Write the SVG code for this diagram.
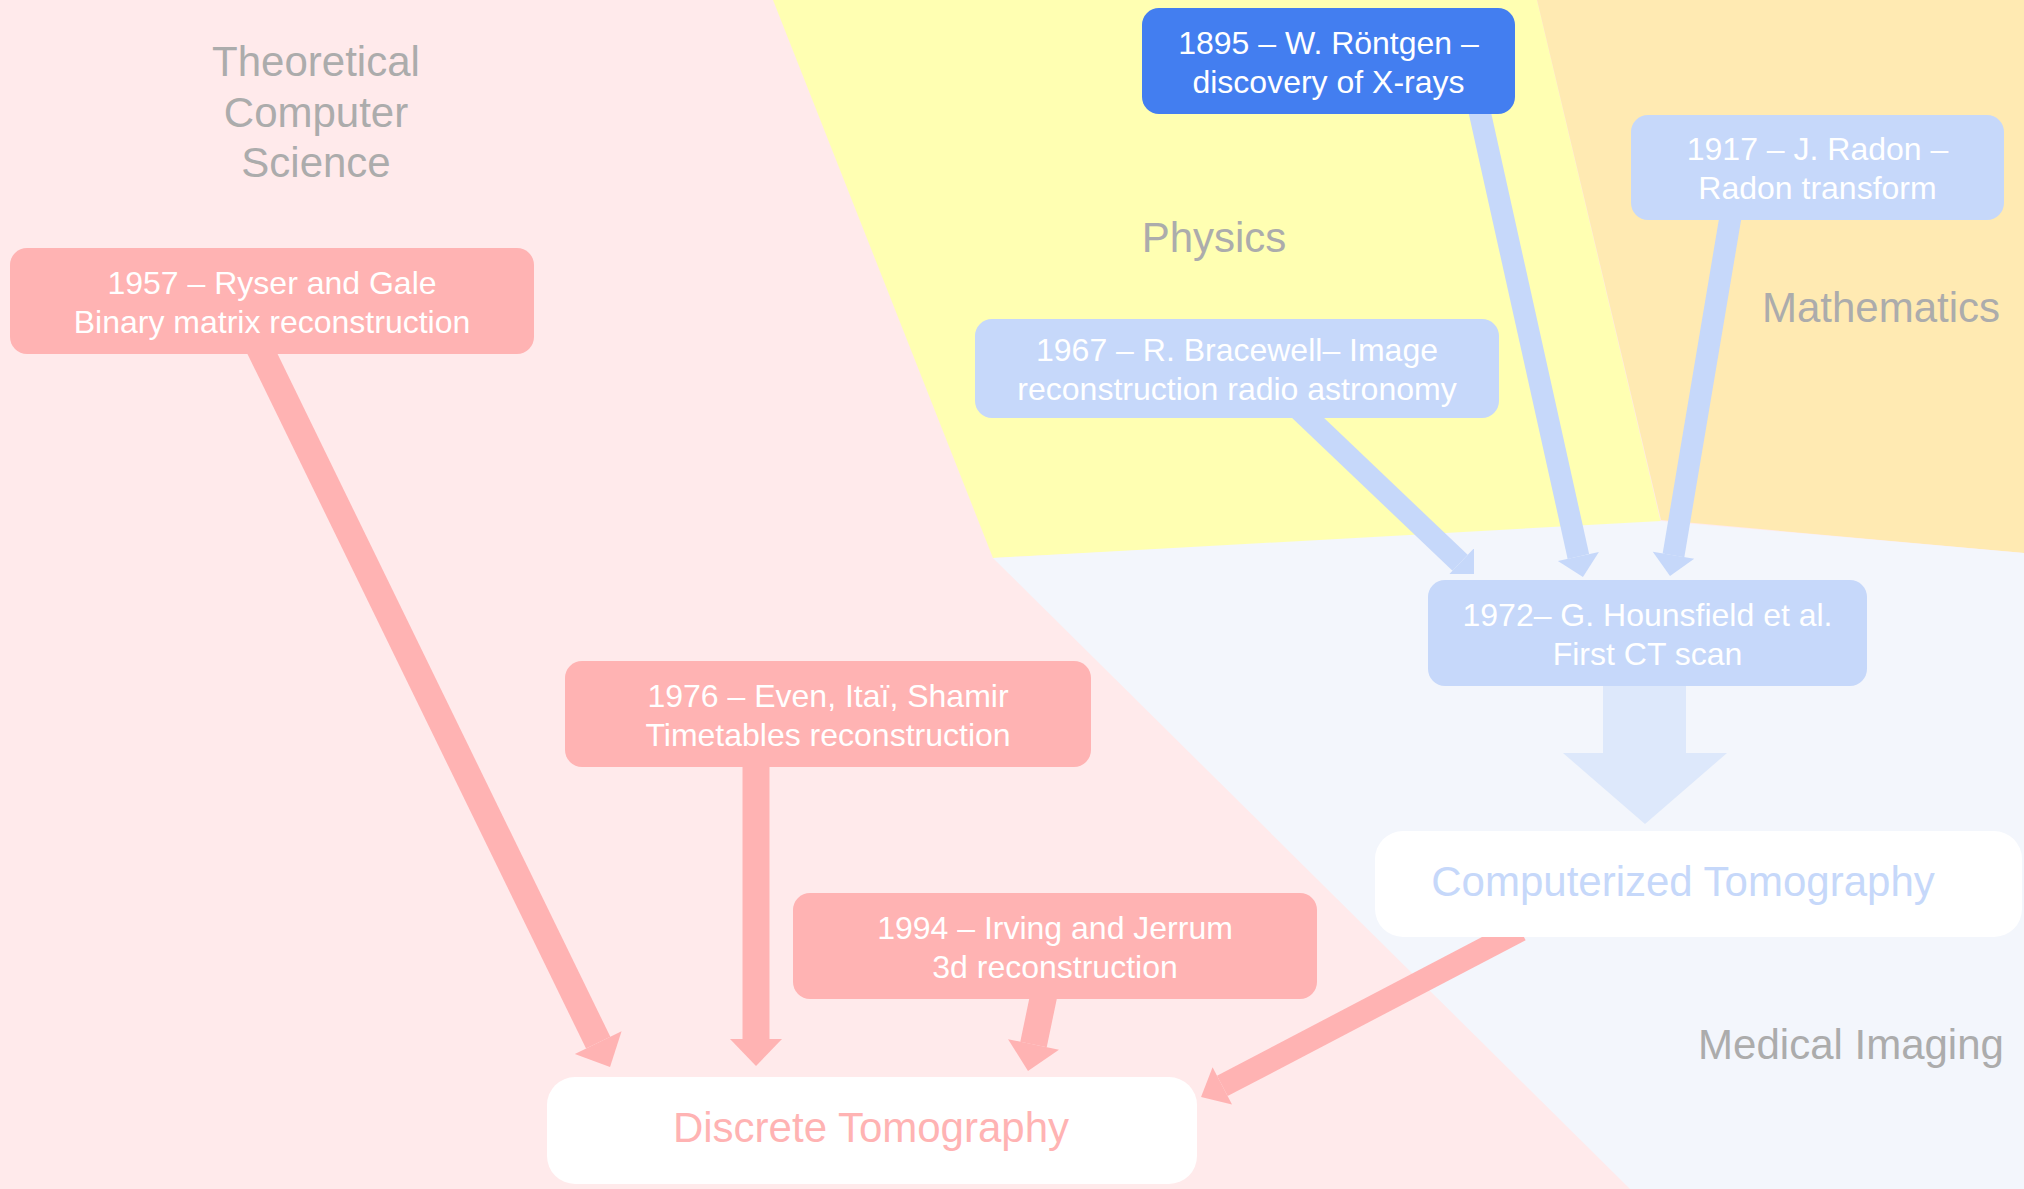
<svg xmlns="http://www.w3.org/2000/svg" width="2024" height="1189" viewBox="0 0 2024 1189">
  <style>
    text { font-family: "Liberation Sans", Arial, sans-serif; text-anchor: middle; }
    .area { font-size: 42px; fill: #acacac; }
    .lbl { font-size: 32px; fill: #ffffff; }
    .big { font-size: 42px; }
    .pink { fill: #ffb3b3; }
    .blue { fill: #c6d8fa; }
    .dark { fill: #437ef0; }
    .white { fill: #ffffff; }
    .lnk-pink { stroke: #ffb3b3; fill: none; }
    .lnk-blue { stroke: #c6d8fa; fill: none; stroke-width: 22; }
  </style>
  <defs>
    <marker id="headPink" markerUnits="userSpaceOnUse" markerWidth="27" markerHeight="52" refX="0" refY="26" orient="auto" overflow="visible">
      <path d="M0,0 L27,26 L0,52 z" fill="#ffb3b3"/>
    </marker>
    <marker id="headPinkSm" markerUnits="userSpaceOnUse" markerWidth="24" markerHeight="42" refX="0" refY="21" orient="auto" overflow="visible">
      <path d="M0,0 L24,21 L0,42 z" fill="#ffb3b3"/>
    </marker>
    <marker id="headBlue" markerUnits="userSpaceOnUse" markerWidth="21" markerHeight="42" refX="0" refY="21" orient="auto" overflow="visible">
      <path d="M0,0 L21,21 L0,42 z" fill="#c6d8fa"/>
    </marker>
    <clipPath id="clipBracewell">
      <rect x="0" y="0" width="1474" height="574"/>
    </clipPath>
  </defs>

  <!-- background areas -->
  <g id="areas">
    <rect x="0" y="0" width="2024" height="1189" fill="#ffeaeb"/>
    <polygon points="773,0 1537,0 1661,523 993,558" fill="#ffffb2"/>
    <polygon points="1537,0 2024,0 2024,553 1661,520" fill="#ffeab2"/>
    <polygon points="993,558 1661,521 2024,553 2024,1189 1630,1189" fill="#f3f6fc"/>
  </g>

  <!-- area titles -->
  <g id="area-labels">
    <text class="area" x="316" y="76">Theoretical</text>
    <text class="area" x="316" y="126.5">Computer</text>
    <text class="area" x="316" y="177">Science</text>
    <text class="area" x="1214" y="252">Physics</text>
    <text class="area" x="1881" y="322">Mathematics</text>
    <text class="area" x="1851" y="1059">Medical Imaging</text>
  </g>

  <!-- connectors -->
  <g id="connectors">
    <line class="lnk-pink" stroke-width="27" x1="255.7" y1="340" x2="598.2" y2="1042.7" marker-end="url(#headPink)"/>
    <line class="lnk-pink" stroke-width="27" x1="756" y1="750" x2="756" y2="1039" marker-end="url(#headPink)"/>
    <line class="lnk-pink" stroke-width="27" x1="1045.9" y1="985" x2="1033.5" y2="1044.5" marker-end="url(#headPink)"/>
    <line class="lnk-pink" stroke-width="23" x1="1520.3" y1="930" x2="1222.3" y2="1085.9" marker-end="url(#headPinkSm)"/>
    <line class="lnk-blue" x1="1477" y1="100" x2="1578.4" y2="556.5" marker-end="url(#headBlue)"/>
    <line class="lnk-blue" x1="1732.3" y1="206" x2="1673.5" y2="555.3" marker-end="url(#headBlue)"/>
    <g clip-path="url(#clipBracewell)">
      <line class="lnk-blue" x1="1297.9" y1="408.3" x2="1460.1" y2="562.8" marker-end="url(#headBlue)"/>
    </g>
    <polygon points="1603,680 1686,680 1686,753 1727,753 1645,824 1563,753 1603,753" fill="#dde8fb"/>
  </g>

  <!-- events -->
  <g id="n1957">
    <rect class="pink" x="10" y="248" width="524" height="106" rx="17"/>
    <text class="lbl" x="272" y="293.5">1957 – Ryser and Gale</text>
    <text class="lbl" x="272" y="332.5">Binary matrix reconstruction</text>
  </g>
  <g id="n1976">
    <rect class="pink" x="565" y="661" width="526" height="106" rx="17"/>
    <text class="lbl" x="828" y="706.5">1976 – Even, Itaï, Shamir</text>
    <text class="lbl" x="828" y="745.5">Timetables reconstruction</text>
  </g>
  <g id="n1994">
    <rect class="pink" x="793" y="893" width="524" height="106" rx="17"/>
    <text class="lbl" x="1055" y="938.5">1994 – Irving and Jerrum</text>
    <text class="lbl" x="1055" y="977.5">3d reconstruction</text>
  </g>
  <g id="n1895">
    <rect class="dark" x="1142" y="8" width="373" height="106" rx="17"/>
    <text class="lbl" x="1328.5" y="53.5">1895 – W. Röntgen –</text>
    <text class="lbl" x="1328.5" y="92.5">discovery of X-rays</text>
  </g>
  <g id="n1917">
    <rect class="blue" x="1631" y="115" width="373" height="105" rx="17"/>
    <text class="lbl" x="1817.5" y="160">1917 – J. Radon –</text>
    <text class="lbl" x="1817.5" y="199">Radon transform</text>
  </g>
  <g id="n1967">
    <rect class="blue" x="975" y="319" width="524" height="99" rx="17"/>
    <text class="lbl" x="1237" y="361">1967 – R. Bracewell– Image</text>
    <text class="lbl" x="1237" y="400">reconstruction radio astronomy</text>
  </g>
  <g id="n1972">
    <rect class="blue" x="1428" y="580" width="439" height="106" rx="17"/>
    <text class="lbl" x="1647.5" y="625.5">1972– G. Hounsfield et al.</text>
    <text class="lbl" x="1647.5" y="664.5">First CT scan</text>
  </g>

  <!-- fields -->
  <g id="ct">
    <rect class="white" x="1375" y="831" width="647" height="106" rx="28"/>
    <text class="big" x="1683" y="896" fill="#c6d8fa">Computerized Tomography</text>
  </g>
  <g id="dt">
    <rect class="white" x="547" y="1077" width="650" height="107" rx="28"/>
    <text class="big" x="871" y="1142" fill="#ffb3b3">Discrete Tomography</text>
  </g>
</svg>
